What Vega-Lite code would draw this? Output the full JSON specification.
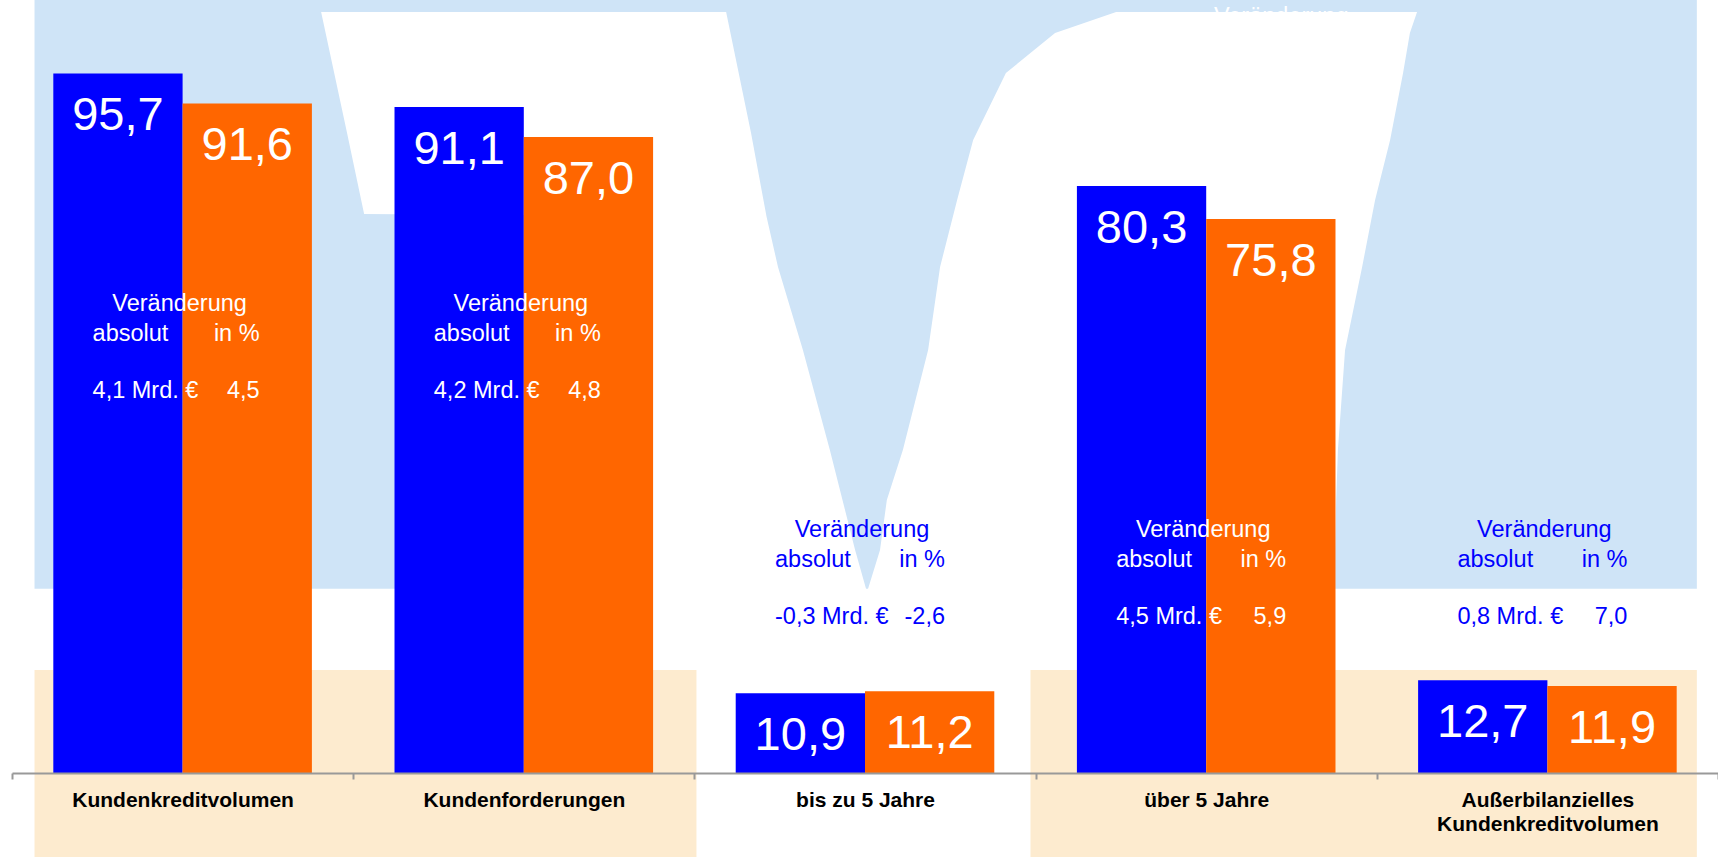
{
  "$schema": "https://vega.github.io/schema/vega-lite/v6.json",
  "width": 1706,
  "height": 731,
  "autosize": "none",
  "padding": {"left": 12, "top": 42, "right": 0, "bottom": 84},
  "background": "#ffffff",
  "config": {
    "font": "Liberation Sans",
    "view": {"stroke": null},
    "locale": {"number": {"decimal": ",", "thousands": ".", "grouping": [3], "currency": ["", " Mrd. €"], "minus": "-"}}
  },
  "datasets": {
    "werte": [
      {"Kategorie": "Kundenkreditvolumen", "Berichtsjahr": 95.7, "Vorjahr": 91.6, "abs": 4.1, "pct": 4.5},
      {"Kategorie": "Kundenforderungen", "Berichtsjahr": 91.1, "Vorjahr": 87.0, "abs": 4.2, "pct": 4.8},
      {"Kategorie": "bis zu 5 Jahre", "Berichtsjahr": 10.9, "Vorjahr": 11.2, "abs": -0.3, "pct": -2.6},
      {"Kategorie": "über 5 Jahre", "Berichtsjahr": 80.3, "Vorjahr": 75.8, "abs": 4.5, "pct": 5.9},
      {"Kategorie": "Außerbilanzielles Kundenkreditvolumen", "Berichtsjahr": 12.7, "Vorjahr": 11.9, "abs": 0.8, "pct": 7.0}
    ],
    "blau": [
      {"von": 0.066, "bis": 4.938, "oben": 105.75, "unten": 25.2}
    ],
    "beige": [
      {"von": 0.066, "bis": 2.006, "oben": 14.1, "unten": -11.49},
      {"von": 2.985, "bis": 4.938, "oben": 14.1, "unten": -11.49}
    ],
    "weiss": [
      {"Form": "A", "hoehe": 104.10, "links": 0.906, "rechts": 2.093},
      {"Form": "A", "hoehe": 87.55, "links": 0.982, "rechts": 2.166},
      {"Form": "A", "hoehe": 76.47, "links": 1.032, "rechts": 2.210},
      {"Form": "A", "hoehe": 76.20, "links": 1.876, "rechts": 2.211},
      {"Form": "A", "hoehe": 69.22, "links": 1.876, "rechts": 2.245},
      {"Form": "A", "hoehe": 57.87, "links": 1.876, "rechts": 2.318},
      {"Form": "A", "hoehe": 44.19, "links": 1.876, "rechts": 2.397},
      {"Form": "A", "hoehe": 30.51, "links": 1.876, "rechts": 2.471},
      {"Form": "A", "hoehe": 25.2, "links": 1.876, "rechts": 2.503},
      {"Form": "A", "hoehe": 24.6, "links": 1.876, "rechts": 2.52},
      {"Form": "B", "hoehe": 104.10, "links": 3.236, "rechts": 4.118},
      {"Form": "B", "hoehe": 101.23, "links": 3.057, "rechts": 4.097},
      {"Form": "B", "hoehe": 95.76, "links": 2.913, "rechts": 4.077},
      {"Form": "B", "hoehe": 86.59, "links": 2.817, "rechts": 4.039},
      {"Form": "B", "hoehe": 78.39, "links": 2.770, "rechts": 3.995},
      {"Form": "B", "hoehe": 69.22, "links": 2.720, "rechts": 3.957},
      {"Form": "B", "hoehe": 57.87, "links": 2.685, "rechts": 3.907},
      {"Form": "B", "hoehe": 44.19, "links": 2.611, "rechts": 3.886},
      {"Form": "B", "hoehe": 37.35, "links": 2.564, "rechts": 3.881},
      {"Form": "B", "hoehe": 30.51, "links": 2.544, "rechts": 3.878},
      {"Form": "B", "hoehe": 25.2, "links": 2.509, "rechts": 3.878},
      {"Form": "B", "hoehe": 24.6, "links": 2.49, "rechts": 3.878}
    ]
  },
  "layer": [
    {
      "layer": [
        {
          "data": {"name": "blau"},
          "mark": {"type": "rect", "color": "#cfe4f7"},
          "encoding": {
            "x": {"field": "von", "type": "quantitative", "scale": {"domain": [0, 5], "nice": false, "zero": false}, "axis": null},
            "x2": {"field": "bis"},
            "y": {"field": "oben", "type": "quantitative", "scale": {"domain": [0, 100], "nice": false}, "axis": null},
            "y2": {"field": "unten"}
          }
        },
        {
          "data": {"name": "weiss"},
          "mark": {"type": "area", "orient": "horizontal", "color": "#ffffff", "opacity": 1},
          "encoding": {
            "y": {"field": "hoehe", "type": "quantitative", "scale": {"domain": [0, 100], "nice": false}, "axis": null},
            "x": {"field": "links", "type": "quantitative", "scale": {"domain": [0, 5], "nice": false, "zero": false}, "axis": null},
            "x2": {"field": "rechts"},
            "detail": {"field": "Form"}
          }
        },
        {
          "data": {"name": "beige"},
          "mark": {"type": "rect", "color": "#fdebcf"},
          "encoding": {
            "x": {"field": "von", "type": "quantitative", "scale": {"domain": [0, 5], "nice": false, "zero": false}, "axis": null},
            "x2": {"field": "bis"},
            "y": {"field": "oben", "type": "quantitative", "scale": {"domain": [0, 100], "nice": false}, "axis": null},
            "y2": {"field": "unten"}
          }
        }
      ]
    },
    {
      "data": {"name": "werte"},
      "encoding": {
        "x": {
          "field": "Kategorie",
          "type": "nominal",
          "sort": null,
          "scale": {"paddingInner": 0, "paddingOuter": 0},
          "axis": {
            "title": null,
            "zindex": 1,
            "labelAngle": 0,
            "labelFont": "Liberation Sans",
            "labelFontSize": 21,
            "labelFontWeight": "bold",
            "labelColor": "#000000",
            "labelLimit": 400,
            "labelPadding": 10,
            "labelLineHeight": 24,
            "labelOverlap": false,
            "labelExpr": "datum.label == 'Außerbilanzielles Kundenkreditvolumen' ? ['Außerbilanzielles', 'Kundenkreditvolumen'] : datum.label",
            "tickBand": "extent",
            "tickSize": 6,
            "tickColor": "#999999",
            "tickWidth": 2,
            "domainColor": "#999999",
            "domainWidth": 2
          }
        }
      },
      "layer": [
        {
          "transform": [{"fold": ["Berichtsjahr", "Vorjahr"], "as": ["Reihe", "Wert"]}],
          "mark": {"type": "bar"},
          "encoding": {
            "xOffset": {"field": "Reihe", "type": "nominal", "sort": ["Berichtsjahr", "Vorjahr"], "scale": {"paddingInner": 0, "paddingOuter": 0.3195}},
            "y": {"field": "Wert", "type": "quantitative", "scale": {"domain": [0, 100], "nice": false}, "axis": null},
            "color": {"field": "Reihe", "type": "nominal", "scale": {"domain": ["Berichtsjahr", "Vorjahr"], "range": ["#0000ff", "#ff6600"]}, "legend": null}
          }
        },
        {
          "transform": [{"fold": ["Berichtsjahr", "Vorjahr"], "as": ["Reihe", "Wert"]}],
          "mark": {"type": "text", "fontSize": 47, "color": "#ffffff", "align": "center", "baseline": "alphabetic", "dy": 57},
          "encoding": {
            "xOffset": {"field": "Reihe", "type": "nominal", "sort": ["Berichtsjahr", "Vorjahr"], "scale": {"paddingInner": 0, "paddingOuter": 0.3195}},
            "y": {"field": "Wert", "type": "quantitative"},
            "text": {"field": "Wert", "type": "quantitative", "format": ".1f"}
          }
        },
        {
          "transform": [{"filter": {"field": "Kategorie", "oneOf": ["Kundenkreditvolumen", "Kundenforderungen"]}}],
          "encoding": {
            "y": {"datum": 63.24, "type": "quantitative"},
            "color": {"condition": {"test": "datum.Berichtsjahr > 40", "value": "#ffffff"}, "value": "#0000ff"}
          },
          "layer": [
            {"mark": {"type": "text", "text": "Veränderung", "fontSize": 23.5, "align": "center", "baseline": "alphabetic", "dx": -3}},
            {"mark": {"type": "text", "text": "absolut", "fontSize": 23.5, "align": "left", "baseline": "alphabetic", "dx": -90, "dy": 30}},
            {"mark": {"type": "text", "text": "in %", "fontSize": 23.5, "align": "right", "baseline": "alphabetic", "dx": 77, "dy": 30}},
            {"mark": {"type": "text", "fontSize": 23.5, "align": "left", "baseline": "alphabetic", "dx": -90, "dy": 87},
             "encoding": {"text": {"field": "abs", "type": "quantitative", "format": "$.1f"}}},
            {"mark": {"type": "text", "fontSize": 23.5, "align": "right", "baseline": "alphabetic", "dx": 77, "dy": 87},
             "encoding": {"text": {"field": "pct", "type": "quantitative", "format": ".1f"}}}
          ]
        },
        {
          "transform": [{"filter": {"field": "Kategorie", "oneOf": ["bis zu 5 Jahre", "über 5 Jahre", "Außerbilanzielles Kundenkreditvolumen"]}}],
          "encoding": {
            "y": {"datum": 32.33, "type": "quantitative"},
            "color": {"condition": {"test": "datum.Berichtsjahr > 40", "value": "#ffffff"}, "value": "#0000ff"}
          },
          "layer": [
            {"mark": {"type": "text", "text": "Veränderung", "fontSize": 23.5, "align": "center", "baseline": "alphabetic", "dx": -3}},
            {"mark": {"type": "text", "text": "absolut", "fontSize": 23.5, "align": "left", "baseline": "alphabetic", "dx": -90, "dy": 30}},
            {"mark": {"type": "text", "text": "in %", "fontSize": 23.5, "align": "right", "baseline": "alphabetic", "dx": 80, "dy": 30}},
            {"mark": {"type": "text", "fontSize": 23.5, "align": "left", "baseline": "alphabetic", "dx": -90, "dy": 87},
             "encoding": {"text": {"field": "abs", "type": "quantitative", "format": "$.1f"}}},
            {"mark": {"type": "text", "fontSize": 23.5, "align": "right", "baseline": "alphabetic", "dx": 80, "dy": 87},
             "encoding": {"text": {"field": "pct", "type": "quantitative", "format": ".1f"}}}
          ]
        },
        {
          "transform": [{"filter": {"field": "Kategorie", "equal": "über 5 Jahre"}}],
          "mark": {"type": "text", "text": "Veränderung", "fontSize": 23.5, "align": "center", "baseline": "alphabetic", "color": "#ffffff", "dx": 75},
          "encoding": {"y": {"datum": 102.5, "type": "quantitative"}}
        }
      ]
    }
  ],
  "resolve": {"scale": {"x": "independent"}}
}
